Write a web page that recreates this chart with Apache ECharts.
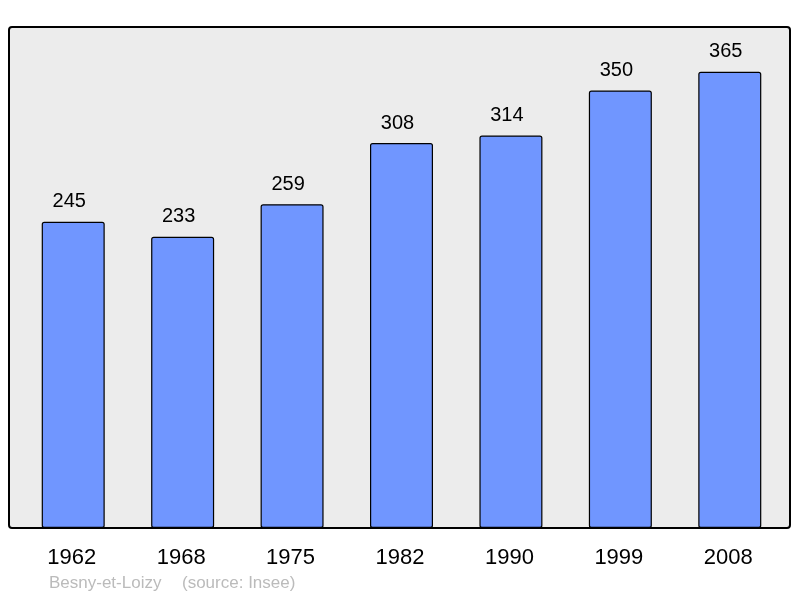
<!DOCTYPE html>
<html>
<head>
<meta charset="utf-8">
<script src="https://cdn.jsdelivr.net/npm/echarts@6/dist/echarts.min.js"></script>
<style>
  html, body { margin: 0; padding: 0; background: #fff; }
  #main { width: 800px; height: 598px; }
</style>
</head>
<body>
<div id="main"></div>
<script>
var years = ['1962', '1968', '1975', '1982', '1990', '1999', '2008'];
var population = [245, 233, 259, 308, 314, 350, 365];
var placeName = 'Besny-et-Loizy';
var sourceNote = '(source: Insee)';

var chart = echarts.init(document.getElementById('main'));
var font = 'Liberation Sans, Arial, sans-serif';
var option = {
    animation: false,
    backgroundColor: '#ffffff',
    textStyle: { fontFamily: font },
    graphic: [
        {
            type: 'rect',
            z: -10,
            shape: { x: 9, y: 27, width: 781, height: 501, r: 3 },
            style: { fill: '#ececec', stroke: '#000', lineWidth: 2 }
        },
        {
            type: 'text',
            left: 49,
            top: 575,
            style: { text: placeName, fill: '#bbbbbb', fontSize: 17, fontFamily: font }
        },
        {
            type: 'text',
            left: 182,
            top: 575,
            style: { text: sourceNote, fill: '#bbbbbb', fontSize: 17, fontFamily: font }
        }
    ],
    grid: { left: 18.5, right: 15.5, top: 28, bottom: 70 },
    xAxis: {
        type: 'category',
        data: years,
        axisLine: { show: false },
        axisTick: { show: false },
        axisLabel: { color: '#000', fontSize: 22, margin: 19, padding: [0, 3, 0, 0] }
    },
    yAxis: {
        type: 'value',
        min: 0,
        max: 400,
        show: false
    },
    series: [{
        type: 'bar',
        data: population,
        barWidth: 63,
        itemStyle: {
            color: '#7096ff',
            borderColor: '#000',
            borderWidth: 1.2,
            borderRadius: 2
        },
        label: {
            show: true,
            position: 'top',
            distance: 10,
            offset: [-4, 0],
            color: '#000',
            fontSize: 20
        }
    }]
};
chart.setOption(option);
</script>
</body>
</html>
